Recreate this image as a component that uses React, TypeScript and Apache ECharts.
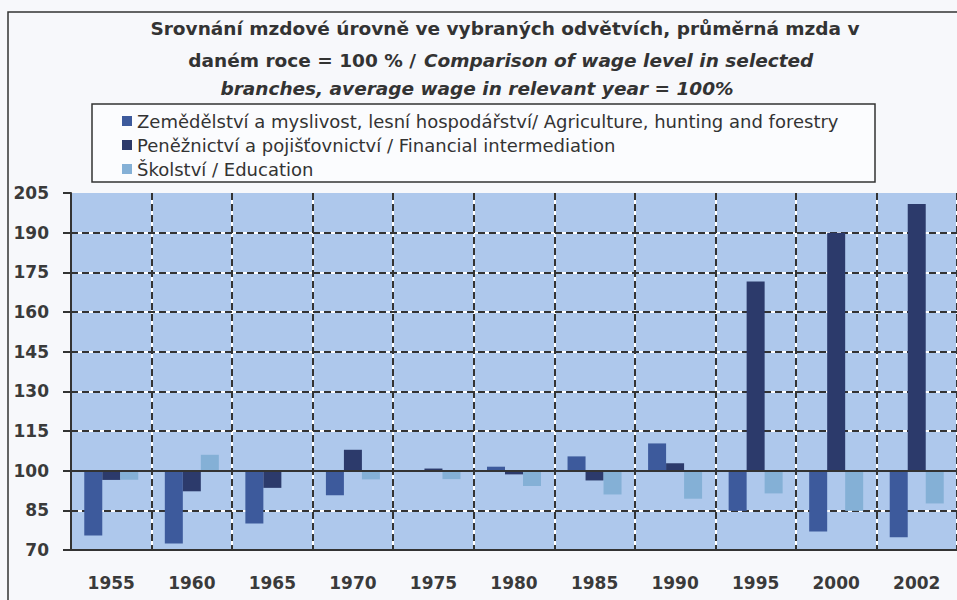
import React, { useEffect, useRef } from "react";
import * as echarts from "echarts";

const years = ["1955", "1960", "1965", "1970", "1975", "1980", "1985", "1990", "1995", "2000", "2002"];
const agriculture = [75.5, 72.5, 80, 90.7, 100, 101.5, 105.4, 110.3, 84.8, 77, 74.8];
const financial = [96.5, 92.2, 93.5, 107.9, 100.8, 98.6, 96.3, 102.8, 171.5, 190, 200.8];
const education = [96.6, 106, 100, 96.7, 96.8, 94.2, 91, 89.4, 91.4, 84.8, 87.6];
const seriesNames = [
  "Zemědělství a myslivost, lesní hospodářství/ Agriculture, hunting and forestry",
  "Peněžnictví a pojišťovnictví / Financial intermediation",
  "Školství / Education",
];
const titleLine1 = "Srovnání mzdové úrovně ve vybraných odvětvích, průměrná mzda v";
const titleLine2a = "daném roce = 100 % /";
const titleLine2b = "Comparison of wage level in selected";
const titleLine3 = "branches, average wage in relevant year = 100%";
const BASE = 100;
const Y_MIN = 70;
const Y_MAX = 205;
const Y_STEP = 15;

const FONT = "'DejaVu Sans', Verdana, sans-serif";
const colors = ["#3d5a9c", "#2c3a6b", "#84b0d6"];

export default function App() {
  const ref = useRef<HTMLDivElement>(null);
  useEffect(() => {
    if (!ref.current) return;
    const chart = echarts.init(ref.current, null, { renderer: "svg" });
    const nTicks = (Y_MAX - Y_MIN) / Y_STEP + 1;
    const dashColors = Array.from({ length: nTicks }, (_, i) => (i === nTicks - 1 ? "rgba(0,0,0,0)" : "#333"));
    const whiteColors = Array.from({ length: nTicks }, (_, i) => (i === nTicks - 1 ? "rgba(0,0,0,0)" : "#ffffff"));
    const shift = (arr: number[]) => arr.map((v) => +(v - BASE).toFixed(2));
    const barCommon = {
      type: "bar" as const,
      barWidth: 18,
      barGap: "0%",
      xAxisIndex: 0,
      yAxisIndex: 0,
    };
    const titleFont = `bold 18.5px ${FONT}`;
    const titleItalic = `italic bold 18.5px ${FONT}`;
    chart.setOption({
      animation: false,
      backgroundColor: "#f7f8fb",
      color: colors,
      graphic: [
        {
          type: "rect",
          z: 0,
          shape: { x: 8, y: 12, width: 1000, height: 700 },
          style: { fill: "none", stroke: "#333", lineWidth: 1.5 },
          silent: true,
        },
        {
          type: "rect",
          z: 0,
          shape: { x: 92, y: 104, width: 783, height: 78 },
          style: { fill: "#fbfcfe", stroke: "#333", lineWidth: 1.5 },
          silent: true,
        },
        {
          type: "text",
          x: 505,
          y: 28,
          style: { text: titleLine1, font: titleFont, fill: "#333", textAlign: "center", textVerticalAlign: "middle" },
        },
        {
          type: "text",
          x: 416,
          y: 60,
          style: { text: titleLine2a, font: titleFont, fill: "#333", textAlign: "right", textVerticalAlign: "middle" },
        },
        {
          type: "text",
          x: 424,
          y: 60,
          style: { text: titleLine2b, font: titleItalic, fill: "#333", textAlign: "left", textVerticalAlign: "middle" },
        },
        {
          type: "text",
          x: 477,
          y: 88,
          style: { text: titleLine3, font: titleItalic, fill: "#333", textAlign: "center", textVerticalAlign: "middle" },
        },
      ],
      legend: {
        orient: "vertical",
        left: 122,
        top: 112,
        padding: 0,
        itemWidth: 10,
        itemHeight: 10,
        itemGap: 6,
        icon: "rect",
        selectedMode: false,
        textStyle: { fontFamily: FONT, fontSize: 18, color: "#333", lineHeight: 17 },
        data: seriesNames,
      },
      grid: {
        left: 71,
        top: 193,
        right: -5,
        bottom: 50,
        show: true,
        backgroundColor: "#aec8ec",
        borderWidth: 0,
      },
      xAxis: [
        {
          type: "category",
          data: years,
          z: 1,
          axisLine: { onZero: false, lineStyle: { color: "#333", width: 2 } },
          axisTick: { show: false },
          axisLabel: {
            interval: 0,
            margin: 24,
            fontFamily: FONT,
            fontWeight: "bold",
            fontSize: 17,
            color: "#3a3a3a",
          },
          splitLine: { show: true, interval: 0, lineStyle: { color: "#333", width: 2, type: [7, 4] } },
        },
        {
          type: "category",
          data: years,
          position: "bottom",
          z: 0,
          axisLine: { show: false, onZero: false },
          axisTick: { show: false },
          axisLabel: { show: false },
          splitLine: { show: true, interval: 0, lineStyle: { color: "#ffffff", width: 2 } },
        },
      ],
      yAxis: [
        {
          type: "value",
          min: Y_MIN - BASE,
          max: Y_MAX - BASE,
          interval: Y_STEP,
          z: 1,
          axisLine: { show: true, lineStyle: { color: "#333", width: 2 } },
          axisTick: { show: true, length: 8, lineStyle: { color: "#333", width: 2 } },
          axisLabel: {
            margin: 22,
            fontFamily: FONT,
            fontWeight: "bold",
            fontSize: 17,
            color: "#3a3a3a",
            formatter: (v: number) => String(v + BASE),
          },
          splitLine: { show: true, lineStyle: { color: dashColors, width: 2, type: [7, 4] } },
        },
        {
          type: "value",
          min: Y_MIN - BASE,
          max: Y_MAX - BASE,
          interval: Y_STEP,
          z: 0,
          position: "left",
          axisLine: { show: false },
          axisTick: { show: false },
          axisLabel: { show: false },
          splitLine: { show: true, lineStyle: { color: whiteColors, width: 2 } },
        },
      ],
      series: [
        {
          ...barCommon,
          name: seriesNames[0],
          data: shift(agriculture),
          markLine: {
            silent: true,
            symbol: "none",
            label: { show: false },
            lineStyle: { color: "#333", width: 2, type: "solid" },
            data: [{ yAxis: 0 }],
          },
        },
        { ...barCommon, name: seriesNames[1], data: shift(financial) },
        { ...barCommon, name: seriesNames[2], data: shift(education) },
      ],
    });
    return () => chart.dispose();
  }, []);
  return (
    <div
      ref={ref}
      style={{ position: "fixed", left: 0, top: 0, width: 957, height: 600 }}
    />
  );
}
